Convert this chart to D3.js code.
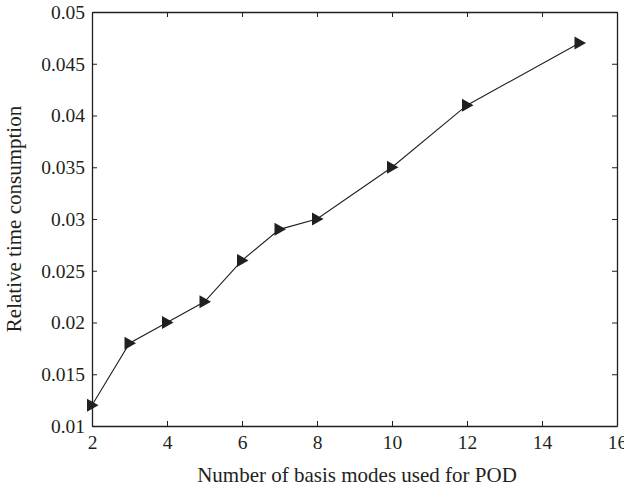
<!DOCTYPE html>
<html>
<head>
<meta charset="utf-8">
<script src="https://cdn.jsdelivr.net/npm/d3@7"></script>
<style>
  body { margin: 0; background: #fff; }
  svg text { font-family: "Liberation Serif", "DejaVu Serif", serif; fill: #231f20; }
</style>
</head>
<body>
<svg id="chart" width="624" height="490"></svg>
<script>
// data
const modes = [2, 3, 4, 5, 6, 7, 8, 10, 12, 15];
const timeUsed = [0.012, 0.018, 0.020, 0.022, 0.026, 0.029, 0.030, 0.035, 0.041, 0.047];
const xTicks = [2, 4, 6, 8, 10, 12, 14, 16];
const yTicks = [0.01, 0.015, 0.02, 0.025, 0.03, 0.035, 0.04, 0.045, 0.05];

const svg = d3.select("#chart");
const ink = "#231f20";
const serif = '"Liberation Serif", "DejaVu Serif", serif';

const margin = { left: 92, right: 7, top: 12, bottom: 64 };
const width = 624 - margin.left - margin.right;
const height = 490 - margin.top - margin.bottom;

const x = d3.scaleLinear().domain([2, 16]).range([0, width]);
const y = d3.scaleLinear().domain([0.01, 0.05]).range([height, 0]);

const g = svg.append("g")
    .attr("transform", `translate(${margin.left},${margin.top})`);

// axes with inward ticks on all four sides
const fmt = d => String(+d.toFixed(3));

const axBottom = g.append("g")
    .attr("transform", `translate(0,${height})`)
    .call(d3.axisBottom(x).tickValues(xTicks).tickSize(-5).tickSizeOuter(0).tickPadding(9).tickFormat(d3.format("d")));
const axTop = g.append("g")
    .call(d3.axisTop(x).tickValues(xTicks).tickSize(-5).tickSizeOuter(0).tickFormat(""));
const axLeft = g.append("g")
    .call(d3.axisLeft(y).tickValues(yTicks).tickSize(-5).tickSizeOuter(0).tickPadding(7).tickFormat(fmt));
const axRight = g.append("g")
    .attr("transform", `translate(${width},0)`)
    .call(d3.axisRight(y).tickValues(yTicks).tickSize(-5).tickSizeOuter(0).tickFormat(""));

[axBottom, axTop, axLeft, axRight].forEach(a => {
    a.attr("font-family", serif).attr("font-size", 19.5);
    a.select(".domain").attr("stroke", ink).attr("stroke-width", 1.3);
    a.selectAll(".tick line").attr("stroke", ink).attr("stroke-width", 1);
    a.selectAll(".tick text")
        .style("font-family", serif)
        .style("font-size", "19.5px")
        .attr("fill", ink);
});

// data line
const line = d3.line()
    .x((d, i) => x(modes[i]))
    .y(d => y(d));

g.append("path")
    .datum(timeUsed)
    .attr("fill", "none")
    .attr("stroke", ink)
    .attr("stroke-width", 1.1)
    .attr("d", line);

// right-pointing triangle markers
const tri = "M-5,-6.5L6.5,0L-5,6.5Z";
g.selectAll(".marker")
    .data(timeUsed)
    .enter()
    .append("path")
    .attr("class", "marker")
    .attr("d", tri)
    .attr("fill", ink)
    .attr("transform", (d, i) => `translate(${x(modes[i])},${y(d)})`);

// axis titles
svg.append("text")
    .attr("x", 357)
    .attr("y", 482)
    .attr("text-anchor", "middle")
    .style("font-size", "21px")
    .text("Number of basis modes used for POD");

svg.append("text")
    .attr("transform", `translate(21,${margin.top + height / 2}) rotate(-90)`)
    .attr("text-anchor", "middle")
    .style("font-size", "21px")
    .text("Relative time consumption");
</script>
</body>
</html>
